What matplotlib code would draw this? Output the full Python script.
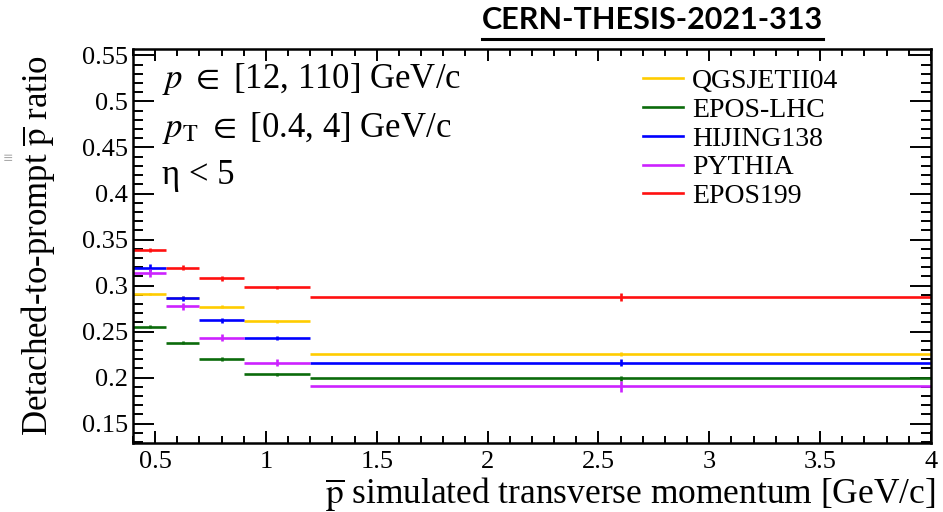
import matplotlib.pyplot as plt
from matplotlib.lines import Line2D
import numpy as np

plt.rcParams['font.family'] = ['Liberation Serif', 'DejaVu Serif']
plt.rcParams['mathtext.fontset'] = 'stix'

# bin edges of the pT histogram (GeV/c)
bin_edges = [0.4, 0.55, 0.7, 0.9, 1.2, 4.0]

models = ['QGSJETII04', 'EPOS-LHC', 'HIJING138', 'PYTHIA', 'EPOS199']
colors = ['#ffcc00', '#0b6b0b', '#0000ff', '#cc22ff', '#ff1010']

qgsjet = [0.291, 0.287, 0.277, 0.261, 0.2255]
qgsjet_err = [0.001, 0.0015, 0.0015, 0.0015, 0.002]
epos_lhc = [0.2555, 0.238, 0.2205, 0.2035, 0.1993]
epos_lhc_err = [0.002, 0.002, 0.002, 0.002, 0.003]
hijing = [0.3195, 0.2862, 0.2622, 0.2433, 0.2163]
hijing_err = [0.004, 0.003, 0.003, 0.002, 0.004]
pythia = [0.3137, 0.2774, 0.2433, 0.2163, 0.1905]
pythia_err = [0.004, 0.004, 0.004, 0.004, 0.006]
epos199 = [0.3385, 0.3195, 0.3078, 0.298, 0.2875]
epos199_err = [0.0025, 0.0025, 0.0025, 0.002, 0.004]

values = [qgsjet, epos_lhc, hijing, pythia, epos199]
errors = [qgsjet_err, epos_lhc_err, hijing_err, pythia_err, epos199_err]

edges = np.array(bin_edges)
centers = 0.5 * (edges[1:] + edges[:-1])
half_widths = 0.5 * (edges[1:] - edges[:-1])

fig = plt.figure(figsize=(9.43, 5.12), dpi=100)
ax = fig.add_axes([0.1410, 0.1348, 0.8462, 0.7695])

for vals, errs, col in zip(values, errors, colors):
    ax.errorbar(centers, vals, xerr=half_widths, yerr=errs, fmt='none',
                ecolor=col, elinewidth=1.9, capsize=0)

ax.set_xlim(0.4, 4.0)
ax.set_ylim(0.129, 0.557)

# ROOT-like frame: inward ticks on all four sides
ax.set_xticks(np.arange(0.5, 4.01, 0.5))
ax.set_xticklabels(['0.5', '1', '1.5', '2', '2.5', '3', '3.5', '4'])
ax.set_xticks(np.arange(0.4, 4.01, 0.1), minor=True)
ax.set_yticks(np.arange(0.15, 0.551, 0.05))
ax.set_yticklabels(['0.15', '0.2', '0.25', '0.3', '0.35', '0.4', '0.45', '0.5', '0.55'])
ax.set_yticks(np.arange(0.13, 0.556, 0.01), minor=True)
ax.tick_params(axis='both', which='both', direction='in', top=True, right=True,
               width=1.4, labelsize=19)
ax.tick_params(axis='x', which='major', length=8.5, pad=6)
ax.tick_params(axis='x', which='minor', length=5)
ax.tick_params(axis='y', which='major', length=15, pad=3.5)
ax.tick_params(axis='y', which='minor', length=7.5)
for s in ax.spines.values():
    s.set_linewidth(1.8)

ax.set_xlabel(r'$\overline{\mathrm{p}}$ simulated transverse momentum [GeV/c]',
              fontsize=25.5, loc='right', labelpad=1)
ax.xaxis.label.set_x(1.005)
ax.set_ylabel(r'Detached-to-prompt $\overline{\mathrm{p}}$ ratio', fontsize=25)
ax.yaxis.set_label_coords(-0.095, 0.5)

# selection text
ax.text(0.037, 0.925, r'$p$ $\in$ [12, 110] GeV/c', transform=ax.transAxes,
        fontsize=25, va='center')
ax.text(0.037, 0.80, r'$p_{\mathrm{T}}$ $\in$ [0.4, 4] GeV/c', transform=ax.transAxes,
        fontsize=25, va='center')
ax.text(0.037, 0.68, r'η < 5', transform=ax.transAxes, fontsize=25, va='center')

handles = [Line2D([], [], color=c, lw=1.9) for c in colors]
ax.legend(handles, models, loc='upper left', bbox_to_anchor=(0.682, 0.866),
          bbox_transform=fig.transFigure, frameon=False, fontsize=20,
          handlelength=1.45, handletextpad=0.3, labelspacing=0.12,
          borderpad=0, borderaxespad=0)

# document reference on top
fig.text(0.6915, 0.961, 'CERN-THESIS-2021-313', family='Lato', weight='bold',
         fontsize=22, ha='center', va='center')
fig.add_artist(Line2D([482 / 943, 823 / 943], [0.924, 0.924], color='black',
                      lw=2.2, transform=fig.transFigure))

# faint mark at the left edge
fig.text(0.003, 0.69, '≡', fontsize=9, color='#aaaaaa', family='DejaVu Sans',
         va='center')

fig.savefig('out.png', dpi=100)
